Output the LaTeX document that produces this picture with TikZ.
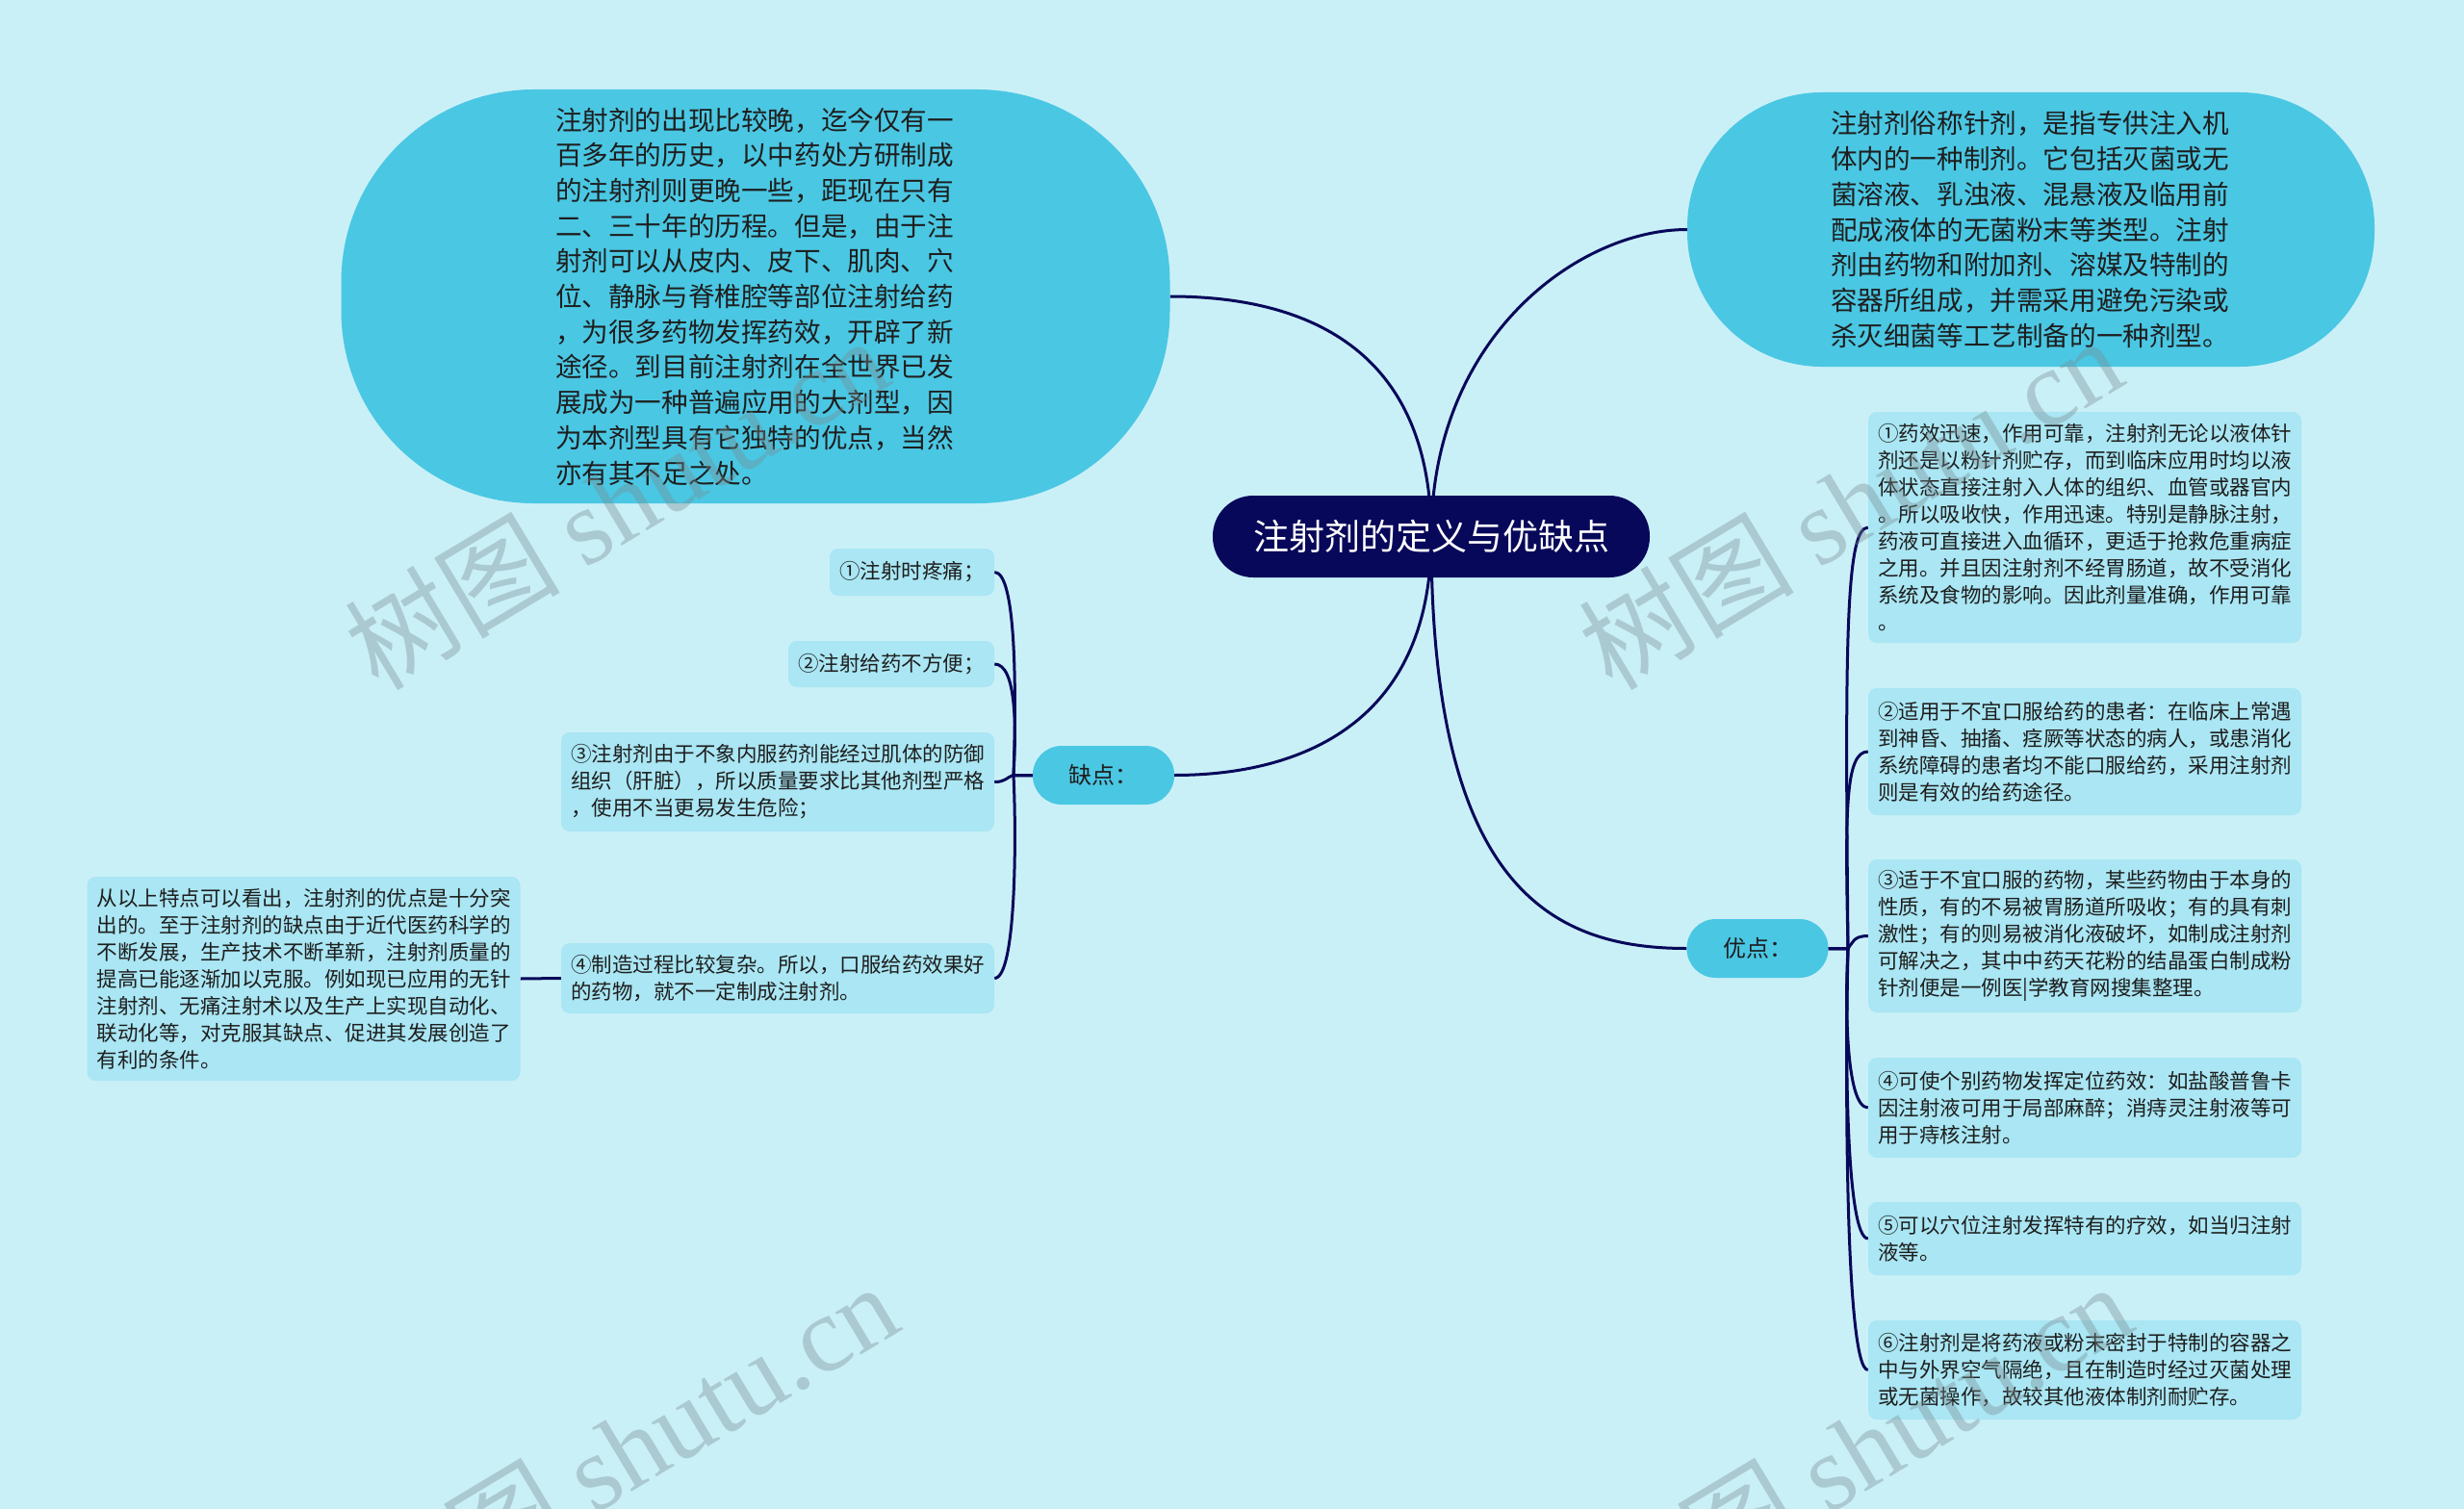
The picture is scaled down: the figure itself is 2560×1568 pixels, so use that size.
\documentclass[tikz,border=0pt]{standalone}
\usepackage{fontspec}
\setmainfont{Noto Sans CJK SC}
\newfontfamily\wmfont{Liberation Serif}
\pgfdeclarelayer{bglayer}
\pgfdeclarelayer{edgelayer}
\pgfdeclarelayer{wmlayer}
\pgfsetlayers{bglayer,edgelayer,main,wmlayer}
\definecolor{bgc}{RGB}{202,240,247}
\definecolor{bigc}{RGB}{74,199,227}
\definecolor{boxc}{RGB}{170,230,243}
\definecolor{navyc}{RGB}{8,8,90}
\definecolor{txtc}{RGB}{30,30,30}
\definecolor{wmc}{RGB}{120,140,145}
\begin{document}
\begin{tikzpicture}[x=1pt,y=-1pt,
  conn/.style={draw=navyc,line width=3pt},
  bigshape/.style={fill=bigc,text=txtc,align=left,inner sep=0pt,
    font=\fontsize{27.6}{36.7}\selectfont},
  leaf/.style={fill=boxc,rounded corners=9pt,text=txtc,align=left,
    inner xsep=10pt,inner ysep=0pt,text width=430pt,
    font=\fontsize{21.5}{28}\selectfont},
  leafshort/.style={fill=boxc,rounded corners=9pt,text=txtc,align=center,
    inner xsep=10pt,inner ysep=0pt,
    font=\fontsize{21.5}{28}\selectfont},
  midnode/.style={fill=bigc,rounded corners=30pt,text=txtc,inner sep=0pt,
    minimum width=147pt,minimum height=61pt,font=\fontsize{24}{28}\selectfont},
  wmark/.style={rotate=31,text=wmc,opacity=0.38,font=\fontsize{112}{116}\selectfont}
]
\useasboundingbox (0,0) rectangle (2560,1568);
\begin{pgfonlayer}{bglayer}
  \fill[bgc] (0,0) rectangle (2560,1568);
\end{pgfonlayer}

% centre
\node[fill=navyc,rounded corners=42pt,text=white,minimum width=454pt,minimum height=85pt,
  inner sep=0pt,font=\fontsize{37}{40}\selectfont] (c) at (1487,557.5) {注射剂的定义与优缺点};

% big text bubbles
\node[bigshape,rounded corners=200pt,minimum width=861pt,minimum height=430pt,text width=416pt] (tl) at (785,308) {注射剂的出现比较晚，迄今仅有一\\
百多年的历史，以中药处方研制成\\
的注射剂则更晚一些，距现在只有\\
二、三十年的历程。但是，由于注\\
射剂可以从皮内、皮下、肌肉、穴\\
位、静脉与脊椎腔等部位注射给药\\
，为很多药物发挥药效，开辟了新\\
途径。到目前注射剂在全世界已发\\
展成为一种普遍应用的大剂型，因\\
为本剂型具有它独特的优点，当然\\
亦有其不足之处。};

\node[bigshape,rounded corners=140pt,minimum width=714pt,minimum height=285pt,text width=416pt] (tr) at (2110,238.5) {注射剂俗称针剂，是指专供注入机\\
体内的一种制剂。它包括灭菌或无\\
菌溶液、乳浊液、混悬液及临用前\\
配成液体的无菌粉末等类型。注射\\
剂由药物和附加剂、溶媒及特制的\\
容器所组成，并需采用避免污染或\\
杀灭细菌等工艺制备的一种剂型。};

% middle nodes
\node[midnode] (qd) at (1146.5,805.5) {缺点：};
\node[midnode] (yd) at (1826,985.5) {优点：};

% right leaves
\node[leaf,minimum height=240pt] (r1) at (2166,548) {①药效迅速，作用可靠，注射剂无论以液体针\\
剂还是以粉针剂贮存，而到临床应用时均以液\\
体状态直接注射入人体的组织、血管或器官内\\
。所以吸收快，作用迅速。特别是静脉注射，\\
药液可直接进入血循环，更适于抢救危重病症\\
之用。并且因注射剂不经胃肠道，故不受消化\\
系统及食物的影响。因此剂量准确，作用可靠\\
。};
\node[leaf,minimum height=132pt] (r2) at (2166,781) {②适用于不宜口服给药的患者：在临床上常遇\\
到神昏、抽搐、痉厥等状态的病人，或患消化\\
系统障碍的患者均不能口服给药，采用注射剂\\
则是有效的给药途径。};
\node[leaf,minimum height=159pt] (r3) at (2166,972.5) {③适于不宜口服的药物，某些药物由于本身的\\
性质，有的不易被胃肠道所吸收；有的具有刺\\
激性；有的则易被消化液破坏，如制成注射剂\\
可解决之，其中中药天花粉的结晶蛋白制成粉\\
针剂便是一例医|学教育网搜集整理。};
\node[leaf,minimum height=104pt] (r4) at (2166,1151) {④可使个别药物发挥定位药效：如盐酸普鲁卡\\
因注射液可用于局部麻醉；消痔灵注射液等可\\
用于痔核注射。};
\node[leaf,minimum height=76pt] (r5) at (2166,1287) {⑤可以穴位注射发挥特有的疗效，如当归注射\\
液等。};
\node[leaf,minimum height=103pt] (r6) at (2166,1423.5) {⑥注射剂是将药液或粉末密封于特制的容器之\\
中与外界空气隔绝，且在制造时经过灭菌处理\\
或无菌操作，故较其他液体制剂耐贮存。};

% left leaves
\node[leafshort,minimum width=171pt,minimum height=49pt] (l1) at (947.5,594.5) {①注射时疼痛；};
\node[leafshort,minimum width=214pt,minimum height=48pt] (l2) at (926,690) {②注射给药不方便；};
\node[leaf,minimum height=103pt] (l3) at (808,812.5) {③注射剂由于不象内服药剂能经过肌体的防御\\
组织（肝脏），所以质量要求比其他剂型严格\\
，使用不当更易发生危险；};
\node[leaf,minimum height=73pt] (l4) at (808,1016.5) {④制造过程比较复杂。所以，口服给药效果好\\
的药物，就不一定制成注射剂。};
\node[leaf,minimum height=212pt] (cc) at (315.5,1017) {从以上特点可以看出，注射剂的优点是十分突\\
出的。至于注射剂的缺点由于近代医药科学的\\
不断发展，生产技术不断革新，注射剂质量的\\
提高已能逐渐加以克服。例如现已应用的无针\\
注射剂、无痛注射术以及生产上实现自动化、\\
联动化等，对克服其缺点、促进其发展创造了\\
有利的条件。};

\coordinate (rs) at (1920,985.5);
\coordinate (ls) at (1053,805.5);

\begin{pgfonlayer}{edgelayer}
  \draw[conn] (c.center) .. controls (1487,350) and (1340,308) .. (tl.east);
  \draw[conn] (c.center) .. controls (1487,350) and (1640,238.5) .. (tr.west);
  \draw[conn] (c.center) .. controls (1487,760) and (1340,805.5) .. (qd.east);
  \draw[conn] (c.center) .. controls (1487,920) and (1610,985.5) .. (yd.west);
  % right spine
  \draw[conn] (yd.east) -- (rs) .. controls (1917,679) and (1917,548) .. (r1.west);
  \draw[conn] (yd.east) -- (rs) .. controls (1917,842) and (1917,781) .. (r2.west);
  \draw[conn] (yd.east) -- (rs) .. controls (1925,980) and (1925,972.5) .. (r3.west);
  \draw[conn] (yd.east) -- (rs) .. controls (1917,1036) and (1917,1151) .. (r4.west);
  \draw[conn] (yd.east) -- (rs) .. controls (1917,1076) and (1917,1287) .. (r5.west);
  \draw[conn] (yd.east) -- (rs) .. controls (1917,1117) and (1917,1423.5) .. (r6.west);
  % left spine
  \draw[conn] (qd.west) -- (ls) .. controls (1056,718) and (1056,594.5) .. (l1.east);
  \draw[conn] (qd.west) -- (ls) .. controls (1056,755) and (1056,690) .. (l2.east);
  \draw[conn] (qd.west) -- (ls) .. controls (1045,808) and (1045,812.5) .. (l3.east);
  \draw[conn] (qd.west) -- (ls) .. controls (1056,868) and (1056,1016.5) .. (l4.east);
  \draw[conn] (l4.west) -- (cc.east);
\end{pgfonlayer}

\begin{pgfonlayer}{wmlayer}
  \node[wmark] (w1) at (640,522) {树图 {\wmfont shutu.cn}};
  \node[wmark] (w2) at (1922,522) {树图 {\wmfont shutu.cn}};
  \node[wmark] (w3) at (650,1505) {树图 {\wmfont shutu.cn}};
  \node[wmark] (w4) at (1932,1505) {树图 {\wmfont shutu.cn}};
\end{pgfonlayer}
\end{tikzpicture}
\end{document}
